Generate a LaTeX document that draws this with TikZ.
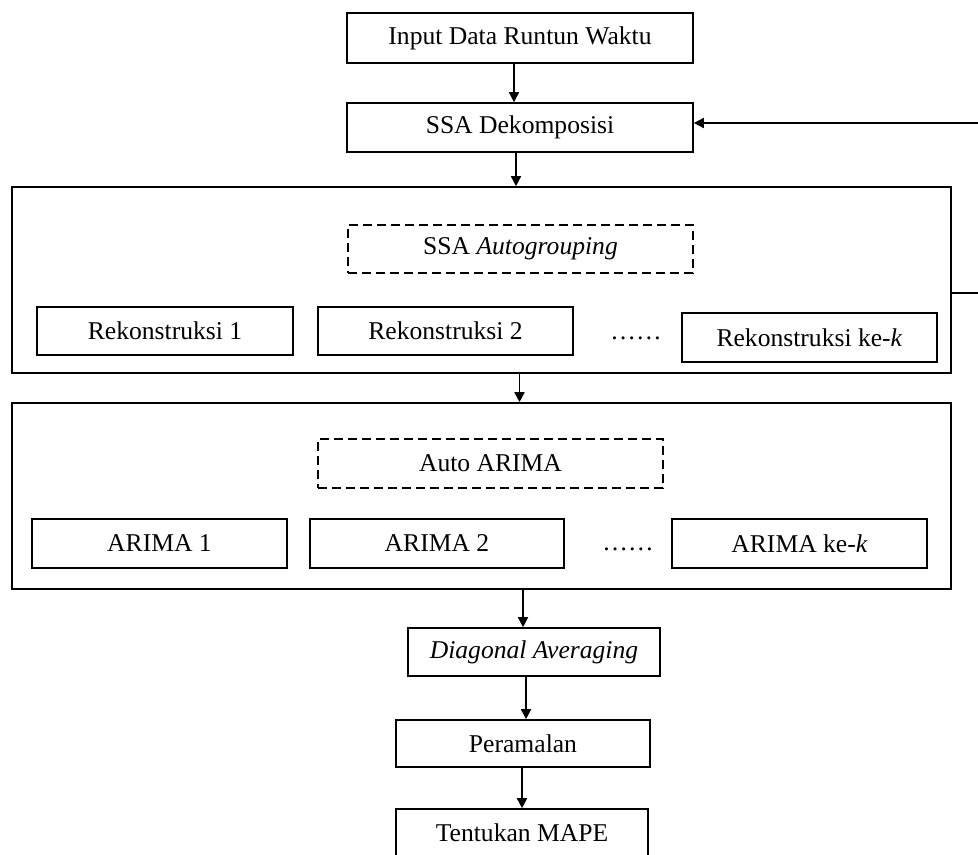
\documentclass[tikz,border=0pt]{standalone}
\usepackage{fontspec}
\setmainfont{Liberation Serif}
\usetikzlibrary{arrows.meta}
\begin{document}
\begin{tikzpicture}[x=0.5pt,y=-0.5pt,
  every node/.style={font=\fontsize{12.8}{15}\selectfont, inner sep=0pt},
  box/.style={draw, line width=0.8pt, rectangle},
  dbox/.style={draw, line width=0.8pt, rectangle, dash pattern=on 4.5pt off 2.5pt},
  arr/.style={line width=0.8pt, -{Triangle[length=5pt,width=5pt]}},
  ln/.style={line width=0.8pt}]
\useasboundingbox (0,0) rectangle (978,855);
\node[box, minimum width=173pt, minimum height=25pt] (inp) at (520,38) {Input Data Runtun Waktu};
\node[box, minimum width=173pt, minimum height=24.5pt] (dek) at (520,127.5) {SSA Dekomposisi};
\node[box, minimum width=469.5pt, minimum height=93pt] (out1) at (481.5,280) {};
\node[dbox, minimum width=172.5pt, minimum height=24pt] (grp) at (520.5,249) {SSA \textit{Autogrouping}};
\node[box, minimum width=128pt, minimum height=24pt] (r1) at (165,331) {Rekonstruksi 1};
\node[box, minimum width=127.5pt, minimum height=24pt] (r2) at (445.5,331) {Rekonstruksi 2};
\node (dt1) at (636,338) {……};
\node[box, minimum width=127.5pt, minimum height=24.5pt] (rk) at (809.5,337.5) {Rekonstruksi ke-\textit{k}};
\node[box, minimum width=469.5pt, minimum height=93pt] (out2) at (481.5,496) {};
\node[dbox, minimum width=172.5pt, minimum height=24.5pt] (aa) at (490.5,463.5) {Auto ARIMA};
\node[box, minimum width=127.5pt, minimum height=24.5pt] (a1) at (159.5,543.5) {ARIMA 1};
\node[box, minimum width=127pt, minimum height=24.5pt] (a2) at (437,543.5) {ARIMA 2};
\node (dt2) at (628,549) {……};
\node[box, minimum width=127.5pt, minimum height=24.5pt] (ak) at (799.5,543.5) {ARIMA ke-\textit{k}};
\node[box, minimum width=126pt, minimum height=24pt] (diag) at (534,652) {\textit{Diagonal Averaging}};
\node[box, minimum width=127pt, minimum height=23.5pt] (per) at (523,743.5) {Peramalan};
\node[box, minimum width=126pt, minimum height=24pt] (mape) at (522,833) {Tentukan MAPE};
\coordinate (fbT) at (981,123);
\draw[arr] ([xshift=-3pt]inp.south) -- ([xshift=-3pt]dek.north);
\draw[arr] ([xshift=-2pt]dek.south) -- ([xshift=-2pt]dek.south |- out1.north);
\draw[arr] ([xshift=19pt]out1.south) -- ([xshift=19pt]out2.north);
\draw[arr] ([xshift=20.75pt]out2.south) -- ([xshift=20.75pt]out2.south |- diag.north);
\draw[arr] ([xshift=-4pt]diag.south) -- ([xshift=-4pt]diag.south |- per.north);
\draw[arr] ([xshift=-0.5pt]per.south) -- ([xshift=-0.5pt]per.south |- mape.north);
\draw[arr] ([yshift=-6.5pt]out1.east) -| (fbT) -- (dek.east |- fbT);
\end{tikzpicture}
\end{document}
